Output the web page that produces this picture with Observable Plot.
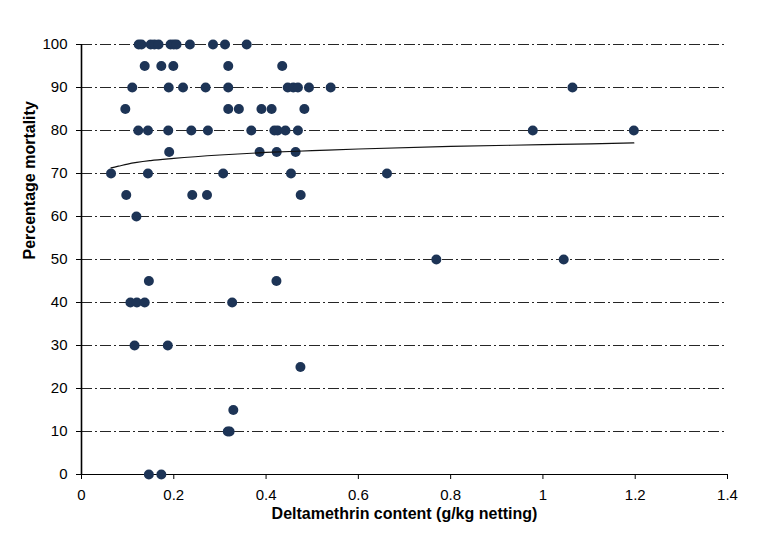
<!DOCTYPE html>
<html>
<head>
<meta charset="utf-8">
<script src="https://cdn.jsdelivr.net/npm/d3@7"></script>
<script src="https://cdn.jsdelivr.net/npm/@observablehq/plot@0.6"></script>
<style>
  html, body { margin: 0; padding: 0; background: #fff; }
  #chart svg { display: block; }
</style>
</head>
<body>
<div id="chart"></div>
<script>
// Deltamethrin content (g/kg netting) and percentage mortality, one entry per net sample
const deltamethrin = [
  0.124, 0.130, 0.150, 0.158, 0.167, 0.193, 0.200, 0.206, 0.235, 0.285, 0.311, 0.358,
  0.137, 0.173, 0.199, 0.318, 0.435,
  0.110, 0.189, 0.220, 0.269, 0.318, 0.447, 0.459, 0.469, 0.493, 0.540, 1.064,
  0.095, 0.318, 0.341, 0.390, 0.412, 0.483,
  0.123, 0.144, 0.188, 0.238, 0.274, 0.368, 0.418, 0.425, 0.442, 0.469, 0.978, 1.197,
  0.190, 0.386, 0.423, 0.464,
  0.064, 0.144, 0.307, 0.454, 0.662,
  0.097, 0.240, 0.272, 0.475,
  0.119,
  0.769, 1.045,
  0.146, 0.4225,
  0.106, 0.120, 0.137, 0.3265,
  0.115, 0.187,
  0.4745,
  0.329,
  0.317, 0.321,
  0.146, 0.173
];
const mortality = [
  100, 100, 100, 100, 100, 100, 100, 100, 100, 100, 100, 100,
  95, 95, 95, 95, 95,
  90, 90, 90, 90, 90, 90, 90, 90, 90, 90, 90,
  85, 85, 85, 85, 85, 85,
  80, 80, 80, 80, 80, 80, 80, 80, 80, 80, 80, 80,
  75, 75, 75, 75,
  70, 70, 70, 70, 70,
  65, 65, 65, 65,
  60,
  50, 50,
  45, 45,
  40, 40, 40, 40,
  30, 30,
  25,
  15,
  10, 10,
  0, 0
];

// Trend line
const trendX = [0.064, 0.08, 0.1, 0.15, 0.2, 0.3, 0.4, 0.5, 0.6, 0.8, 1.0, 1.197];
const trendY = [71.3, 71.7, 72.2, 73.0, 73.5, 74.3, 74.9, 75.3, 75.7, 76.3, 76.7, 77.1];

// Axis ticks and labels
const xTicks = [0, 0.2, 0.4, 0.6, 0.8, 1.0, 1.2, 1.4];
const xTickLabels = ["0", "0.2", "0.4", "0.6", "0.8", "1", "1.2", "1.4"];
const yTicks = [0, 10, 20, 30, 40, 50, 60, 70, 80, 90, 100];
const gridY = [10, 20, 30, 40, 50, 60, 70, 80, 90, 100];

const xTitle = "Deltamethrin content (g/kg netting)";
const yTitle = "Percentage mortality";

const points = deltamethrin.map((x, i) => ({x, y: mortality[i]}));
const trend = trendX.map((x, i) => ({x, y: trendY[i]}));

const font = "'Liberation Sans', Arial, Helvetica, sans-serif";

const chart = Plot.plot({
  width: 760,
  height: 554,
  marginLeft: 81,
  marginRight: 33,
  marginTop: 44,
  marginBottom: 80,
  style: {fontFamily: font, fontSize: "15px", color: "#000", background: "#fff"},
  x: {domain: [0, 1.4]},
  y: {domain: [0, 100]},
  marks: [
    Plot.ruleY(gridY, {stroke: "#000", strokeWidth: 1, strokeDasharray: "11,3,2,3", strokeOpacity: 0.85}),
    Plot.axisX(xTicks, {
      tickSize: 5, tickPadding: 10, fontSize: 15, stroke: "#000",
      tickFormat: (d, i) => xTickLabels[i], label: null
    }),
    Plot.axisY(yTicks, {
      tickSize: 5, tickPadding: 9, fontSize: 15, stroke: "#000",
      tickFormat: d => String(d), label: null
    }),
    Plot.ruleY([0], {stroke: "#000", strokeWidth: 1}),
    Plot.ruleX([0], {stroke: "#000", strokeWidth: 1.6}),
    Plot.dot(points, {x: "x", y: "y", r: 5, fill: "#1d3456", stroke: "none"}),
    Plot.line(trend, {x: "x", y: "y", stroke: "#111", strokeWidth: 1.2, curve: "monotone-x"}),
    Plot.text([xTitle], {text: d => d, frameAnchor: "bottom", dy: 44, fontWeight: "bold", fontSize: 16, fill: "#000"}),
    Plot.text([yTitle], {text: d => d, frameAnchor: "left", dx: -52, rotate: -90, fontWeight: "bold", fontSize: 16, fill: "#000"})
  ]
});

document.getElementById("chart").appendChild(chart);
</script>
</body>
</html>
